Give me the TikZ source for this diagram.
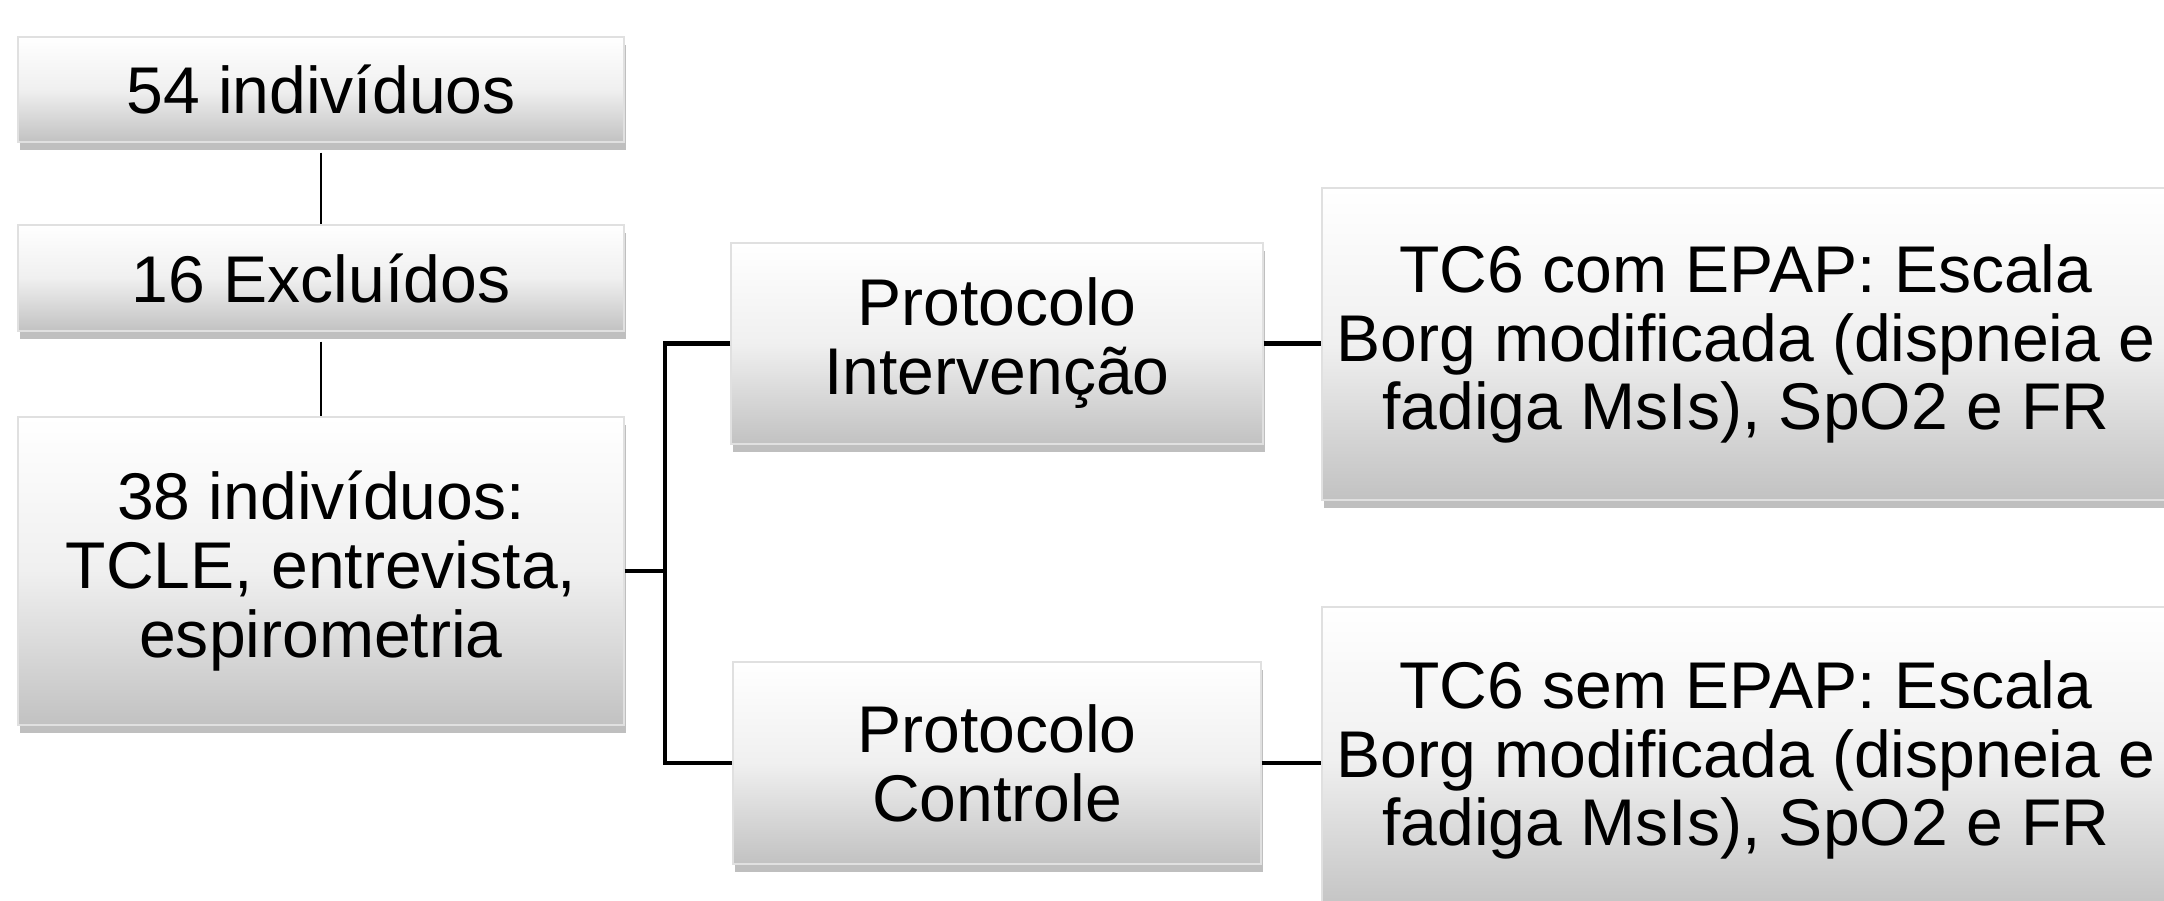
\documentclass[tikz,border=0pt]{standalone}
\usepackage{fontspec}
\setmainfont{Liberation Sans}
\usetikzlibrary{shadows}

\tikzset{
  caixa/.style={rectangle, draw=black!12, line width=0.3pt,
    top color=white, bottom color=black!24, middle color=black!6,
    align=center, inner sep=0pt,
    font=\fontsize{18.8pt}{19.6pt}\selectfont,
    drop shadow={shadow xshift=0.5pt, shadow yshift=-2.2pt, opacity=0.5}},
  fino/.style={line width=0.45pt},
  grosso/.style={line width=1.4pt},
}

\begin{document}
\begin{tikzpicture}

    \clip (0,0) rectangle (21.64,9);

    % Coluna da esquerda
    \node[caixa, minimum width=6.06cm, minimum height=1.05cm] (n54) at (3.21,8.105) {54 indivíduos};
    \node[caixa, minimum width=6.06cm, minimum height=1.06cm] (n16) at (3.21,6.22) {16 Excluídos};
    \node[caixa, minimum width=6.06cm, minimum height=3.08cm] (n38) at (3.21,3.29)
        {38 indivíduos:\\TCLE, entrevista,\\espirometria};

    % Protocolos
    \node[caixa, minimum width=5.32cm, minimum height=2.01cm] (interv) at (9.97,5.565) {Protocolo\\Intervenção};
    \node[caixa, minimum width=5.28cm, minimum height=2.02cm] (contr) at (9.97,1.37) {Protocolo\\Controle};

    % Avaliacoes
    \node[caixa, minimum width=8.48cm, minimum height=3.12cm] (tccom) at (17.46,5.56)
        {TC6 com EPAP: Escala\\Borg modificada (dispneia e\\fadiga MsIs), SpO2 e FR};
    \node[caixa, minimum width=8.48cm, minimum height=3.06cm] (tcsem) at (17.46,1.40)
        {TC6 sem EPAP: Escala\\Borg modificada (dispneia e\\fadiga MsIs), SpO2 e FR};

    % Ligacoes
    \draw[fino, shorten <=0.1cm] (n54.south) -- (n16.north);
    \draw[fino, shorten <=0.1cm] (n16.south) -- (n38.north);

    \coordinate (garfo) at (6.65,3.29);
    \draw[grosso] (n38.east) -- (garfo);
    \draw[grosso] (interv.west) -| (garfo) |- (contr.west);

    \draw[grosso] (interv.east) -- (tccom.west |- interv.east);
    \draw[grosso] (contr.east) -- (tcsem.west |- contr.east);

\end{tikzpicture}
\end{document}
